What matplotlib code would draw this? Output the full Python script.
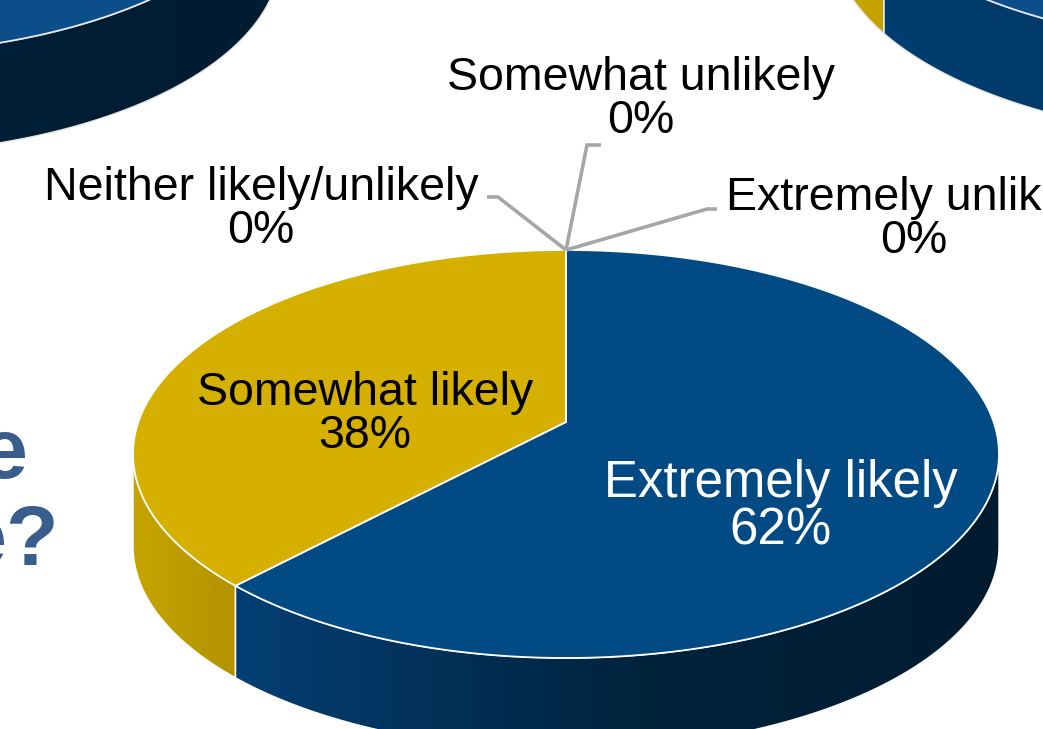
import numpy as np
import matplotlib.pyplot as plt
from matplotlib.patches import Polygon
from matplotlib.colors import LinearSegmentedColormap

W, H = 1043, 729

# main pie
categories = ["Extremely likely", "Somewhat likely", "Neither likely/unlikely",
              "Somewhat unlikely", "Extremely unlikely"]
shares = [62, 38, 0, 0, 0]
pct_labels = ["62%", "38%", "0%", "0%", "0%"]

# neighbouring pies on the slide, only their edges are in frame
left_pie_shares = [70, 30]
right_pie_shares = [65, 35]

# tail of the slide title, cut by the crop
title_tail = ["e", "e?"]

BLUE_TOP = "#024A83"
GOLD_TOP = "#D5B000"
BLUE_SIDE = ["#043F74", "#00243F", "#001B2F"]
GOLD_SIDE = ["#C6A400", "#B39300"]

# geometry of the projected rim ellipse: cx, cy, a, b, depth (pixels)
MAIN = (566, 454, 433, 204, 92)
LEFT = (-140, -143, 420, 197, 100)
RIGHT = (1265, -156, 433, 203, 93)
PERSP = 0.157  # perspective tilt, pulls the pie centre towards the back


def rim(geo, phi_deg, drop=0.0):
    """Point on the rim for a pie angle (degrees, 90 = top, clockwise = -)."""
    cx, cy, a, b, _ = geo
    k = PERSP
    sx, sy = a * np.sqrt(1 - k * k), b * (1 - k * k)
    cyc = cy - b * k
    phi = np.radians(phi_deg)
    w = 1 + k * np.sin(phi)
    return cx + sx * np.cos(phi) / w, cyc - sy * np.sin(phi) / w + drop


def hub(geo):
    cx, cy, a, b, _ = geo
    return cx, cy - b * PERSP


def slice_angles(vals):
    tot = float(sum(vals))
    cum = np.concatenate([[0], np.cumsum(vals)]) / tot
    return [(90 - 360 * cum[i], 90 - 360 * cum[i + 1]) for i in range(len(vals))]


def draw_pie(ax, geo, vals, tops, sides, edge="white"):
    d = geo[4]
    angs = slice_angles(vals)
    # side walls, front half only
    for (t0, t1), cols in zip(angs, sides):
        phis = np.linspace(t0, t1, 800)
        xt, yt = rim(geo, phis)
        m = yt >= geo[1]
        if m.sum() < 2:
            continue
        xt, yt = xt[m], yt[m]
        pts = np.column_stack([np.r_[xt, xt[::-1]], np.r_[yt, yt[::-1] + d]])
        poly = Polygon(pts, closed=True, facecolor="none", edgecolor=edge,
                       lw=1.0, zorder=3)
        ax.add_patch(poly)
        cmap = LinearSegmentedColormap.from_list("s", cols)
        grad = np.linspace(0, 1, 256)[None, :]
        im = ax.imshow(grad, cmap=cmap, aspect="auto", zorder=2,
                       extent=(pts[:, 0].min(), pts[:, 0].max(),
                               pts[:, 1].max(), pts[:, 1].min()))
        im.set_clip_path(poly)
    # top faces
    hx, hy = hub(geo)
    for (t0, t1), col in zip(angs, tops):
        if t0 == t1:
            continue
        xt, yt = rim(geo, np.linspace(t0, t1, 400))
        pts = np.column_stack([np.r_[hx, xt], np.r_[hy, yt]])
        ax.add_patch(Polygon(pts, closed=True, facecolor=col, edgecolor=edge,
                             lw=1.3, zorder=4))


fig = plt.figure(figsize=(W / 100, H / 100), dpi=100)
ax = fig.add_axes([0, 0, 1, 1])
ax.axis("off")

draw_pie(ax, LEFT, left_pie_shares, ["#0B4E8A", GOLD_TOP],
         [["#00243F", "#001C31"], GOLD_SIDE], edge="#E6E6E6")
draw_pie(ax, RIGHT, right_pie_shares, ["#0B4E8A", GOLD_TOP],
         [["#003E70", "#002E58"], ["#CDAA00", "#C3A200"]], edge="#E6E6E6")
draw_pie(ax, MAIN, shares[:2], [BLUE_TOP, GOLD_TOP], [BLUE_SIDE, GOLD_SIDE])

# labels: centre x and baseline of the category line
label_pos = [(781, 497), (365, 405), (261, 200), (641, 90), (914, 210)]
label_size = [36.7, 33.5, 33.5, 33.5, 33.5]
label_color = ["white", "black", "black", "black", "black"]
for name, pct, (x, y), fs, c in zip(categories, pct_labels, label_pos,
                                    label_size, label_color):
    gap = fs * 100 / 72 * 0.93
    kw = dict(ha="center", va="baseline", color=c, fontsize=fs,
              family="Liberation Sans", zorder=6)
    ax.text(x, y, name, **kw)
    ax.text(x, y + gap, pct, **kw)

# leader lines for the zero slices, from their spot on the rim
elbows = {2: [(498, 197), (487, 197)], 3: [(587, 145), (601, 145)],
          4: [(707, 209), (717, 209)]}
angs = slice_angles(shares)
for i, pts in elbows.items():
    x0, y0 = rim(MAIN, angs[i][0])
    xs = [x0] + [p[0] for p in pts]
    ys = [y0] + [p[1] for p in pts]
    ax.plot(xs, ys, color="#A6A6A6", lw=2.6, solid_capstyle="butt",
            solid_joinstyle="miter", zorder=5)

# title tail
tkw = dict(ha="right", va="baseline", color="#395D8D", fontsize=62,
           fontweight="bold", family="Liberation Sans", zorder=6)
ax.text(28, 478, title_tail[0], **tkw)
ax.text(59, 565, title_tail[1], **tkw)

ax.set_xlim(0, W)
ax.set_ylim(H, 0)
fig.savefig("out.png", dpi=100)
